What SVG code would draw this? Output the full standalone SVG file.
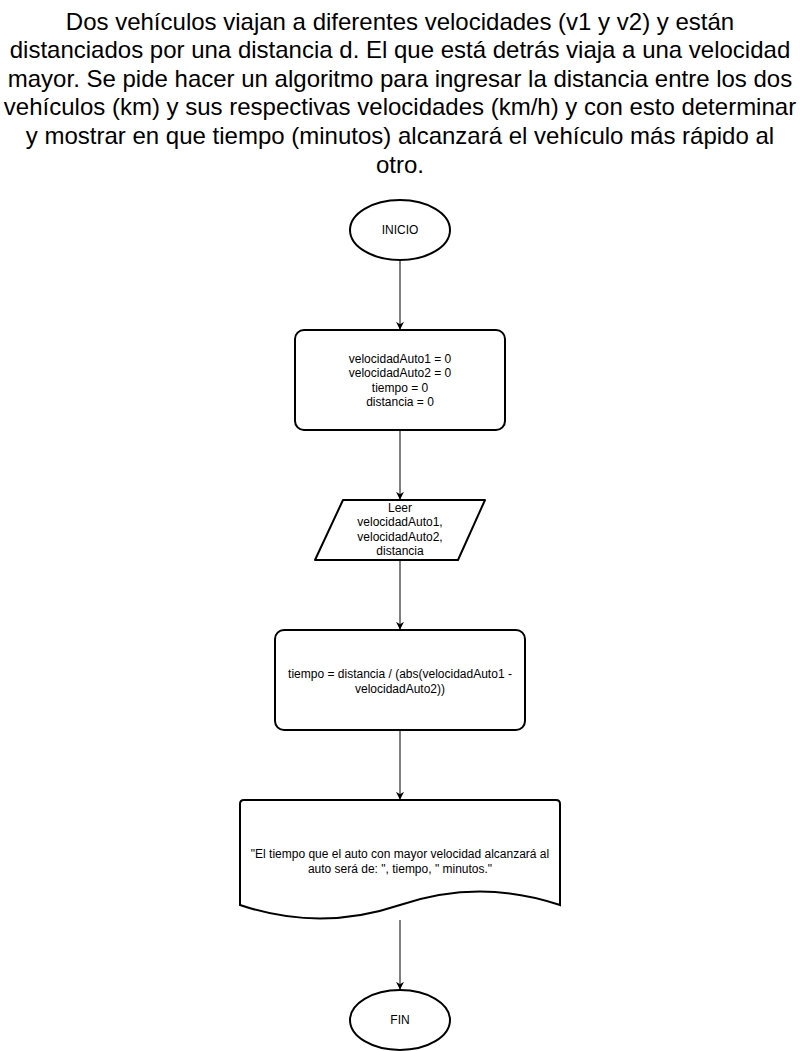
<svg xmlns="http://www.w3.org/2000/svg" width="800" height="1051" viewBox="0 0 800 1051">
<style>
.s{fill:#fff;stroke:#000;stroke-width:2}
.t{font-family:"Liberation Sans",Arial,sans-serif;font-size:12px;text-anchor:middle;fill:#000}
.h{font-family:"Liberation Sans",Arial,sans-serif;font-size:24px;text-anchor:middle;fill:#000}
.c{stroke:#000;stroke-width:1;fill:none;marker-end:url(#a)}
</style>
<defs>
<marker id="a" viewBox="0 0 10 10" refX="9" refY="5" markerWidth="8" markerHeight="8" markerUnits="userSpaceOnUse" orient="auto">
<path d="M0,0 L10,5 L0,10 L3,5 Z" fill="#000"/>
</marker>
</defs>
<g id="title">
<text class="h" x="400" y="29.5">Dos vehículos viajan a diferentes velocidades (v1 y v2) y están</text>
<text class="h" x="400" y="58">distanciados por una distancia d. El que está detrás viaja a una velocidad</text>
<text class="h" x="400" y="86.7">mayor. Se pide hacer un algoritmo para ingresar la distancia entre los dos</text>
<text class="h" x="400" y="115.3">vehículos (km) y sus respectivas velocidades (km/h) y con esto determinar</text>
<text class="h" x="400" y="144">y mostrar en que tiempo (minutos) alcanzará el vehículo más rápido al</text>
<text class="h" x="400" y="172.5">otro.</text>
</g>
<g id="connectors">
<line class="c" x1="400" y1="260" x2="400" y2="329"/>
<line class="c" x1="400" y1="430" x2="400" y2="499"/>
<line class="c" x1="400" y1="560" x2="400" y2="629"/>
<line class="c" x1="400" y1="730" x2="400" y2="799"/>
<line class="c" x1="400" y1="920" x2="400" y2="989"/>
</g>
<g id="inicio">
<ellipse class="s" cx="400" cy="230" rx="50" ry="30"/>
<text class="t" x="400" y="234">INICIO</text>
</g>
<g id="init">
<rect class="s" x="295" y="330" width="210" height="100" rx="9"/>
<text class="t" x="400" y="363">velocidadAuto1 = 0</text>
<text class="t" x="400" y="377">velocidadAuto2 = 0</text>
<text class="t" x="400" y="392">tiempo = 0</text>
<text class="t" x="400" y="406">distancia = 0</text>
</g>
<g id="leer">
<path class="s" d="M343,500 H485 L458,560 H315 Z" stroke-linejoin="round"/>
<text class="t" x="400" y="512">Leer</text>
<text class="t" x="400" y="526">velocidadAuto1,</text>
<text class="t" x="400" y="541">velocidadAuto2,</text>
<text class="t" x="400" y="555">distancia</text>
</g>
<g id="calc">
<rect class="s" x="275" y="630" width="250" height="100" rx="9"/>
<text class="t" x="400" y="678">tiempo = distancia / (abs(velocidadAuto1 -</text>
<text class="t" x="400" y="693">velocidadAuto2))</text>
</g>
<g id="mostrar">
<path class="s" d="M244,800 H556 Q560,800 560,804 V905 Q480,878 400,905 Q320,932 240,905 V804 Q240,800 244,800 Z"/>
<text class="t" x="400" y="858">"El tiempo que el auto con mayor velocidad alcanzará al</text>
<text class="t" x="400" y="873">auto será de: ", tiempo, " minutos."</text>
</g>
<g id="fin">
<ellipse class="s" cx="400" cy="1020" rx="50" ry="30"/>
<text class="t" x="400" y="1024">FIN</text>
</g>
</svg>
